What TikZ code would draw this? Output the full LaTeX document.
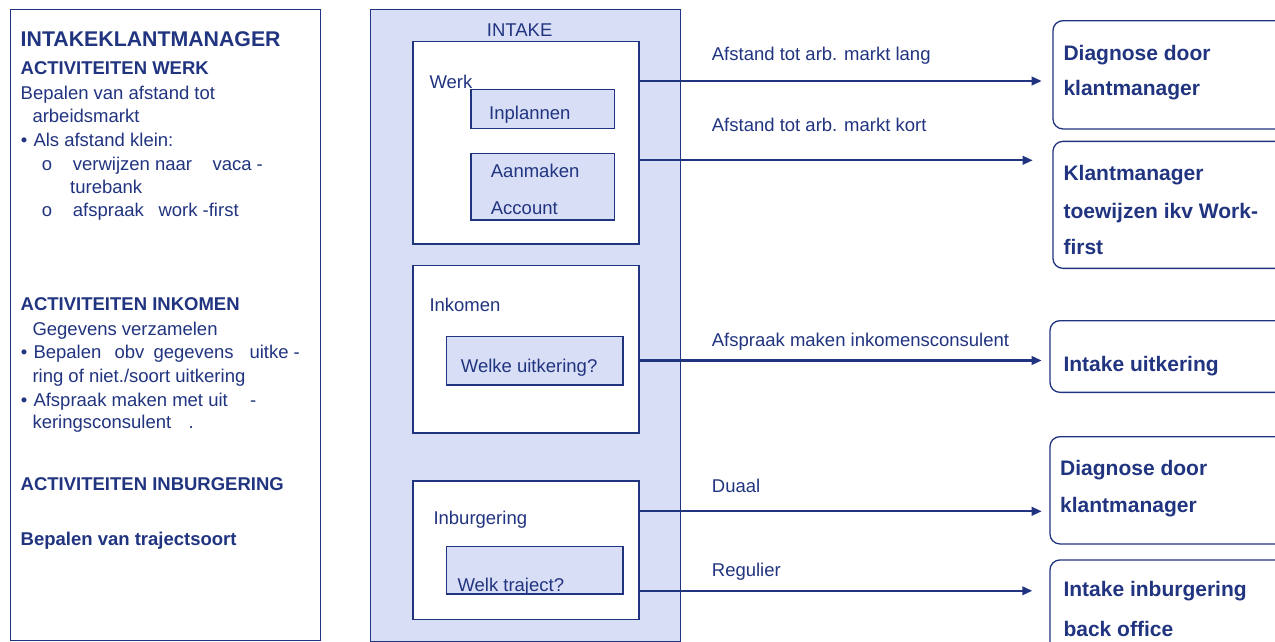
\documentclass[tikz,border=0pt]{standalone}
\usepackage{fontspec}
\setmainfont{Liberation Sans}
\usetikzlibrary{arrows.meta}
\definecolor{navy}{RGB}{33,52,128}
\definecolor{lav}{RGB}{216,222,245}
\begin{document}
\begin{tikzpicture}[x=1pt,y=-1pt,
  txt/.style={anchor=base west, inner sep=0pt, text=navy, font=\fontsize{18.5}{22}\selectfont},
  hd/.style={txt, font=\fontsize{18.5}{22}\selectfont\bfseries},
  big/.style={txt, font=\fontsize{21.3}{26}\selectfont\bfseries},
  res/.style={txt, font=\fontsize{21}{26}\selectfont\bfseries},
  frame/.style={draw=navy, line width=1.3pt, anchor=north west, inner sep=0pt},
  panel/.style={frame, fill=white},
  subbox/.style={frame, fill=lav},
  result/.style={frame, fill=white, rounded corners=10pt},
  flow/.style={draw=navy, line width=2.2pt, -{Triangle[length=10pt,width=8.5pt]}}
]
\useasboundingbox (0,0) rectangle (1275,641);
\clip (0,0) rectangle (1275,641);
\fill[white] (0,0) rectangle (1275,641);

% left description panel
\node[frame, minimum width=310.5pt, minimum height=631pt] (lp) at (9.5,9) {};

% intake column with its three sections
\node[frame, fill=lav, minimum width=310pt, minimum height=632pt] (intake) at (370,8.5) {};
\node[panel, minimum width=226pt, minimum height=202.6pt] (werk) at (412.3,40.7) {};
\node[subbox, minimum width=143.4pt, minimum height=39.3pt] (inpl) at (470.3,88.7) {};
\node[subbox, minimum width=143.4pt, minimum height=66.6pt] (aanm) at (470.3,152.7) {};
\node[panel, minimum width=226pt, minimum height=167.3pt] (inkomen) at (412.3,265) {};
\node[subbox, minimum width=176.6pt, minimum height=48.3pt] (welke) at (445.7,336) {};
\node[panel, minimum width=226pt, minimum height=138.7pt] (inburg) at (412.3,480.3) {};
\node[subbox, minimum width=176.6pt, minimum height=47.6pt] (traject) at (445.7,545.7) {};

% outcome boxes on the right
\node[result, minimum width=260pt, minimum height=108.3pt] (r1) at (1052.3,20) {};
\node[result, minimum width=260pt, minimum height=127pt] (r2) at (1052.3,140.7) {};
\node[result, minimum width=260pt, minimum height=71.7pt] (r3) at (1049.3,320) {};
\node[result, minimum width=260pt, minimum height=107.3pt] (r4) at (1049.3,436) {};
\node[result, minimum width=260pt, minimum height=110pt] (r5) at (1049.3,559.3) {};

% left panel text
\node[big] (t0) at (20.5,46.7) {INTAKEKLANTMANAGER};
\node[hd] (t1) at (20.5,74) {ACTIVITEITEN WERK};
\node[txt] (t2) at (20.5,99.3) {Bepalen van afstand tot};
\node[txt] (t3) at (32.3,122.7) {arbeidsmarkt};
\node[txt] (t4b) at (20.7,146.7) {•};
\node[txt] (t4) at (33.3,146.7) {Als afstand klein:};
\node[txt] (t5o) at (41.7,170) {o};
\node[txt] (t5) at (72.7,170) {verwijzen naar};
\node[txt] (t5b) at (212.3,170) {vaca -};
\node[txt] (t6) at (70,193.3) {turebank};
\node[txt] (t7o) at (41.7,216.7) {o};
\node[txt] (t7) at (72.7,216.7) {afspraak};
\node[txt] (t7b) at (158.3,216.7) {work -first};
\node[hd] (t8) at (20.5,310) {ACTIVITEITEN INKOMEN};
\node[txt] (t9) at (32.3,335) {Gegevens verzamelen};
\node[txt] (t10b) at (20.7,358.3) {•};
\node[txt] (t10) at (33.3,358.3) {Bepalen};
\node[txt] (t10c) at (114.3,358.3) {obv};
\node[txt] (t10d) at (153.3,358.3) {gegevens};
\node[txt] (t10e) at (249.3,358.3) {uitke -};
\node[txt] (t11) at (32.3,382.7) {ring of niet./soort uitkering};
\node[txt] (t12b) at (20.7,406) {•};
\node[txt] (t12) at (33.3,406) {Afspraak maken met uit};
\node[txt] (t12d) at (250,406) {-};
\node[txt] (t13) at (32.3,428.3) {keringsconsulent};
\node[txt] (t13d) at (188.3,428.3) {.};
\node[hd] (t14) at (20.5,490.7) {ACTIVITEITEN INBURGERING};
\node[hd] (t15) at (20.5,545.7) {Bepalen van trajectsoort};

% intake column text
\node[txt] (intakeL) at (486.7,36) {INTAKE};
\node[txt] (werkL) at (429.3,88.3) {Werk};
\node[txt] (inplL) at (489,119.3) {Inplannen};
\node[txt] (aanmL) at (490.7,177.3) {Aanmaken};
\node[txt] (accL) at (490.7,214) {Account};
\node[txt] (inkL) at (429.3,311.7) {Inkomen};
\node[txt] (welkeL) at (460.7,372.3) {Welke uitkering?};
\node[txt] (inbL) at (433.3,524) {Inburgering};
\node[txt] (trajL) at (457.3,591.7) {Welk traject?};

% connectors
\draw[flow, shorten >=10.6pt] (werk.east |- 0,81) -- (r1.west |- 0,81);
\draw[flow, shorten >=19.6pt] (werk.east |- 0,160.3) -- (r2.west |- 0,160.3);
\draw[flow, shorten >=7.6pt] (inkomen.east |- 0,360.5) -- (r3.west |- 0,360.5);
\draw[flow, shorten >=7.6pt] (inburg.east |- 0,511.3) -- (r4.west |- 0,511.3);
\draw[flow, shorten >=17pt] (inburg.east |- 0,590.8) -- (r5.west |- 0,590.8);

% connector labels
\node[txt] (lab1) at (711.7,60.7) {Afstand tot arb. markt lang};
\node[txt] (lab2) at (711.7,131.7) {Afstand tot arb. markt kort};
\node[txt] (lab3) at (711.7,346.7) {Afspraak maken inkomensconsulent};
\node[txt] (lab4) at (711.7,492.7) {Duaal};
\node[txt] (lab5) at (711.7,576) {Regulier};

% outcome texts
\node[res] (r1a) at (1063.3,60) {Diagnose door};
\node[res] (r1b) at (1063.3,95.7) {klantmanager};
\node[res] (r2a) at (1063.3,180) {Klantmanager};
\node[res] (r2b) at (1063.3,218.3) {toewijzen ikv Work-};
\node[res] (r2c) at (1063.3,254.3) {first};
\node[res] (r3a) at (1063.3,371.7) {Intake uitkering};
\node[res] (r4a) at (1060,475) {Diagnose door};
\node[res] (r4b) at (1060,512.3) {klantmanager};
\node[res] (r5a) at (1063.3,596.7) {Intake inburgering};
\node[res] (r5b) at (1063.3,636) {back office};
\end{tikzpicture}
\end{document}
